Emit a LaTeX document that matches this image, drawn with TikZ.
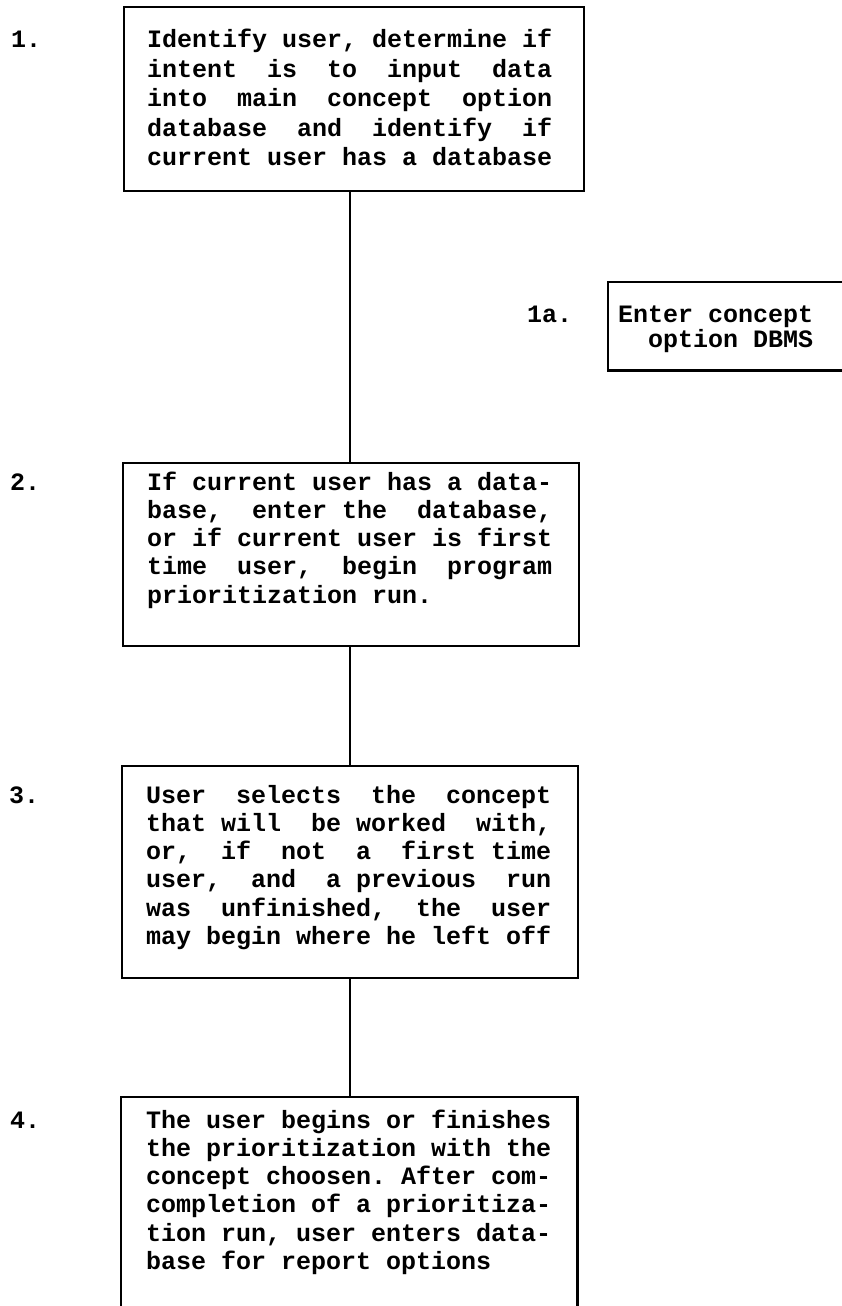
\documentclass[tikz,border=0pt]{standalone}
\usepackage{fontspec}
\setmonofont{Liberation Mono}
% heavy typewriter face; blanks are set as fixed one-character gaps
\newcommand{\typeface}[1]{\ttfamily\bfseries\fontsize{25}{#1}\selectfont}
\newcommand{\gap}{\hspace{15pt}}
\begin{document}
\begin{tikzpicture}[x=1pt,y=-1pt,
  stepbox/.style={draw, line width=2.2pt, rectangle, inner sep=0pt, anchor=north west},
  openbox/.style={rectangle, inner sep=0pt, anchor=north west},
  steptext/.style={anchor=base west, inner sep=0pt, text width=410pt, align=left,
    font=\typeface{28.3}},
  numlabel/.style={anchor=base west, inner sep=0pt, font=\typeface{28.3}},
  conn/.style={line width=2pt}]
\useasboundingbox (0,0) rectangle (841,1306);

% main chain of boxes
\node[stepbox, minimum width=460pt, minimum height=184pt] (b1) at (123,6) {};
\node[stepbox, minimum width=456pt, minimum height=183pt] (b2) at (122,462) {};
\node[stepbox, minimum width=456pt, minimum height=212pt] (b3) at (121,765) {};
\node[openbox, minimum width=456pt, minimum height=215pt] (b4) at (121,1097) {};
\draw[line width=2.2pt] (b4.south west) -- (b4.north west) -- (b4.north east) -- (b4.south east);

% side box
\node[openbox, minimum width=250pt, minimum height=88pt] (b1a) at (608,282) {};
\draw[line width=2.2pt] (b1a.north east) -- (b1a.north west) -- (b1a.south west) -- (b1a.south east);

% box texts
\node[steptext, font=\typeface{29.5}] (t1) at (147,48) {%
Identify\gap user,\gap determine\gap if\\
intent\gap\gap is\gap\gap to\gap\gap input\gap\gap data\\
into\gap\gap main\gap\gap concept\gap\gap option\\
database\gap\gap and\gap\gap identify\gap\gap if\\
current\gap user\gap has\gap a\gap database};

\node[steptext] (t2) at (147,490) {%
If\gap current\gap user\gap has\gap a\gap data-\\
base,\gap\gap enter\gap the\gap\gap database,\\
or\gap if\gap current\gap user\gap is\gap first\\
time\gap\gap user,\gap\gap begin\gap\gap program\\
prioritization\gap run.};

\node[steptext] (t3) at (146,803) {%
User\gap\gap selects\gap\gap the\gap\gap concept\\
that\gap will\gap\gap be\gap worked\gap\gap with,\\
or,\gap\gap if\gap\gap not\gap\gap a\gap\gap first\gap time\\
user,\gap\gap and\gap\gap a\gap previous\gap\gap run\\
was\gap\gap unfinished,\gap\gap the\gap\gap user\\
may\gap begin\gap where\gap he\gap left\gap off};

\node[steptext] (t4) at (146,1128) {%
The\gap user\gap begins\gap or\gap finishes\\
the\gap prioritization\gap with\gap the\\
concept\gap choosen.\gap After\gap com-\\
completion\gap of\gap a\gap prioritiza-\\
tion\gap run,\gap user\gap enters\gap data-\\
base\gap for\gap report\gap options};

\node[steptext, text width=230pt, font=\typeface{25}] (t1a) at (618,322) {%
Enter\gap concept\\
\hspace*{30pt}option\gap DBMS};

% step numbers
\node[numlabel] (n1) at (11,48) {1.};
\node[numlabel] (n2) at (10,490) {2.};
\node[numlabel] (n3) at (9,803) {3.};
\node[numlabel] (n4) at (10,1128) {4.};
\node[numlabel] (n1a) at (527,322) {1a.};

% connectors
\coordinate (axis) at (350,0);
\draw[conn] (b1.south -| axis) -- (b2.north -| axis);
\draw[conn] (b2.south -| axis) -- (b3.north -| axis);
\draw[conn] (b3.south -| axis) -- (b4.north -| axis);
\end{tikzpicture}
\end{document}
